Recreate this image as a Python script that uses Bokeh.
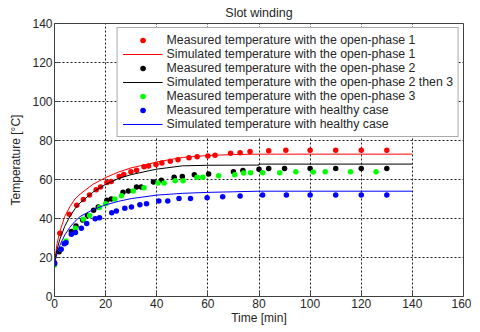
from bokeh.plotting import figure
from bokeh.models import Range1d, SingleIntervalTicker, Legend, LegendItem
from bokeh.embed import file_html
from bokeh.resources import INLINE

# ---- data ----
t_red = [0, 2.1, 5.8, 8.7, 11.3, 13.7, 16.3, 18, 20.5, 22.2, 25.3, 27.1, 29.9, 32.1, 35, 36.8,
         39.7, 42, 45.3, 48.3, 52.6, 55.8, 60, 62.8, 68.9, 72.6, 76.5, 83.8, 90.5, 100, 110, 120, 130]
T_red = [17.4, 32.4, 42.2, 46.8, 49.7, 52.0, 54.8, 56.1, 58.4, 59.0, 61.6, 62.6, 64.0, 64.8, 66.6, 66.9,
         67.7, 68.4, 69.3, 70.1, 71.2, 71.7, 72.0, 72.5, 73.4, 73.7, 74.3, 74.7, 75.0, 75.0, 75.0, 75.0, 75.0]

t_black = [0, 1.8, 6.6, 8.4, 11, 12.9, 15.3, 17.1, 20.5, 22.2, 26.8, 28.9, 32.1, 33.9, 38.7, 41.8,
           46.8, 50, 54.7, 60.3, 70, 73.7, 80, 83.8, 90, 100, 110, 120, 130]
T_black = [17.0, 22.9, 33.3, 36.2, 39.2, 41.6, 44.2, 45.9, 49.3, 50.0, 53.4, 54.1, 56.1, 56.1, 58.7, 59.6,
           61.1, 61.6, 62.5, 62.8, 64.0, 64.6, 65.2, 65.7, 65.7, 65.7, 65.7, 65.7, 65.7]

t_green = [0, 2.5, 4.5, 8.2, 11.3, 13.7, 17.6, 20, 23.6, 26.2, 30.8, 35, 40.5, 42.9, 47.2, 50.3,
           55.8, 58, 64.2, 70.5, 74, 76.7, 81.4, 88.1, 94.4, 101.2, 105.9, 115.8, 125.8]
T_green = [16.2, 24.2, 28.5, 35.0, 39.6, 41.6, 45.6, 47.6, 50.0, 51.7, 54.1, 55.8, 58.2, 58.2, 59.4, 59.4,
           61.1, 61.1, 61.9, 62.5, 63.3, 63.4, 63.4, 63.4, 64.0, 63.8, 64.0, 64.0, 64.0]

t_blue = [0, 2.6, 3.8, 4.5, 6.6, 8.2, 10.5, 12.6, 15.9, 17.6, 22.4, 24.2, 27.5, 30.1, 33.4, 36,
          40.8, 44.3, 48.7, 53.2, 59.7, 65.8, 72.6, 81.4, 90.7, 100, 110, 120, 130]
T_blue = [16.8, 24.2, 27.1, 27.6, 31.9, 32.8, 35.0, 37.4, 39.9, 40.4, 43.0, 43.9, 45.2, 45.9, 47.1, 47.6,
          49.0, 49.0, 50.2, 50.2, 50.7, 51.2, 51.5, 52.0, 52.0, 52.0, 52.0, 52.0, 52.0]

# simulated curves
ts_red = [0, 1, 2, 4, 6, 8, 10, 15, 20, 25, 30, 37, 40, 50, 60, 70, 80, 140]
Ts_red = [17.5, 27, 33, 41, 46, 50, 52.5, 57.5, 61, 63.8, 66, 68, 69, 71.3, 72.3, 72.8, 73, 73]

ts_black = [0, 1, 2, 4, 6, 8, 10, 15, 20, 25, 30, 37, 40, 50, 60, 80, 80, 140]
Ts_black = [17.5, 24, 29, 36, 41, 45, 48, 53.5, 57.5, 60.5, 62.5, 64.5, 65.3, 67, 67.3, 67.4, 67.9, 67.9]

ts_blue = [0, 1, 2, 4, 6, 8, 10, 15, 20, 25, 30, 40, 50, 60, 70, 80, 140]
Ts_blue = [17, 22, 26, 31.5, 35.5, 38.5, 41, 44.5, 47, 48.8, 50.2, 52, 52.9, 53.4, 53.7, 54, 54]

x_ticks_step = 20
y_ticks_step = 20

FONT = "Liberation Sans"
TXT = "#262626"
FS = "12px"

p = figure(frame_width=409, frame_height=273, output_backend="svg", toolbar_location=None,
           x_range=Range1d(0, 160), y_range=Range1d(0, 140),
           min_border_left=10, min_border_right=8, min_border_top=23, min_border_bottom=10,
           title="Slot winding", margin=(0, 0, 0, 6))
p.title.align = "center"
p.title.text_font = FONT
p.title.text_font_size = "12.5px"
p.title.text_font_style = "normal"
p.title.text_color = TXT
p.title.standoff = 7
p.title.offset = 0

p.outline_line_color = "#404040"
p.outline_line_width = 1
p.background_fill_color = "white"
p.border_fill_color = "white"

for ax in (p.xaxis[0], p.yaxis[0]):
    ax.axis_line_color = "#404040"
    ax.major_tick_line_color = "#404040"
    ax.major_tick_in = 4
    ax.major_tick_out = 0
    ax.minor_tick_line_color = None
    ax.major_label_text_font = FONT
    ax.major_label_text_font_size = FS
    ax.major_label_text_color = TXT
    ax.axis_label_text_font = FONT
    ax.axis_label_text_font_size = FS
    ax.axis_label_text_font_style = "normal"
    ax.axis_label_text_color = TXT

p.xaxis.major_label_standoff = -2
p.yaxis.major_label_standoff = -2
p.xaxis.ticker = SingleIntervalTicker(interval=x_ticks_step)
p.yaxis.ticker = SingleIntervalTicker(interval=y_ticks_step)
p.xaxis.axis_label = "Time [min]"
p.yaxis.axis_label = "Temperature [°C]"
p.xaxis.axis_label_standoff = 0
p.yaxis.axis_label_standoff = 6

for g in (p.xgrid[0], p.ygrid[0]):
    g.grid_line_color = "#202020"
    g.grid_line_dash = "2 2"
    g.grid_line_width = 1

S = 5.5
r1 = p.scatter(t_red, T_red, size=S, color="#ff0000", line_color=None)
l1 = p.line(ts_red, Ts_red, line_color="#ff0000", line_width=1)
r2 = p.scatter(t_black, T_black, size=S, color="#000000", line_color=None)
l2 = p.line(ts_black, Ts_black, line_color="#000000", line_width=1)
r3 = p.scatter(t_green, T_green, size=S, color="#00ff00", line_color=None)
r4 = p.scatter(t_blue, T_blue, size=S, color="#0000ff", line_color=None)
l4 = p.line(ts_blue, Ts_blue, line_color="#0000ff", line_width=1)

legend = Legend(items=[
    LegendItem(label="Measured temperature with the open-phase 1", renderers=[r1]),
    LegendItem(label="Simulated temperature with the open-phase 1", renderers=[l1]),
    LegendItem(label="Measured temperature with the open-phase 2", renderers=[r2]),
    LegendItem(label="Simulated temperature with the open-phase 2 then 3", renderers=[l2]),
    LegendItem(label="Measured temperature with the open-phase 3", renderers=[r3]),
    LegendItem(label="Measured temperature with healthy case", renderers=[r4]),
    LegendItem(label="Simulated temperature with healthy case", renderers=[l4]),
], location="top_right")
legend.label_text_font = FONT
legend.label_text_font_size = "12.3px"
legend.label_text_color = TXT
legend.label_height = 14
legend.glyph_height = 14
legend.glyph_width = 40
legend.label_standoff = 4
legend.padding = 5
legend.spacing = 0
legend.margin = 4
legend.border_line_color = "#555555"
legend.border_line_width = 1
legend.background_fill_color = "white"
legend.background_fill_alpha = 1
p.add_layout(legend, "center")

open("out.html", "w").write(file_html(p, INLINE))
